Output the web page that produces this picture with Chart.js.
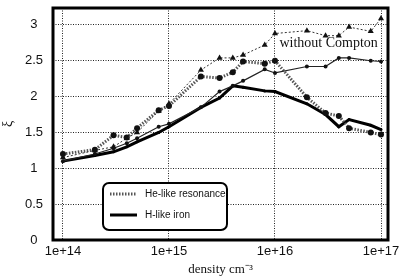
<!DOCTYPE html>
<html><head><meta charset="utf-8">
<script src="https://cdn.jsdelivr.net/npm/chart.js@4"></script>
<style>html,body{margin:0;padding:0;background:#fff}#wrap{width:409px;height:278px}</style>
</head><body><div id="wrap"><canvas id="c" width="409" height="278"></canvas></div>
<script>
const densities = [1e14,2e14,3e14,4e14,5e14,8e14,1e15,2e15,3e15,4e15,5e15,8e15,1e16,2e16,3e16,4e16,5e16,8e16,1e17];
const heNoCompton = [1.15,1.25,1.3,1.42,1.5,1.8,1.9,2.37,2.54,2.54,2.58,2.72,2.88,2.92,2.85,2.85,2.97,2.91,3.09];
const hNoCompton  = [1.1,1.2,1.28,1.35,1.42,1.58,1.62,1.85,2.07,2.15,2.22,2.38,2.33,2.42,2.42,2.54,2.54,2.5,2.49];
const heResonance = [1.2,1.26,1.46,1.43,1.56,1.81,1.87,2.28,2.26,2.34,2.49,2.46,2.5,1.99,1.77,1.73,1.56,1.5,1.47];
const hIron       = [1.1,1.18,1.23,1.3,1.37,1.5,1.58,1.85,1.98,2.15,2.13,2.08,2.07,1.9,1.75,1.58,1.68,1.6,1.54];
const xTicks = [1e14,1e15,1e16,1e17];
const yTicks = [0,0.5,1,1.5,2,2.5,3];
const legendLabels = ['He-like resonance','H-like iron'];
const noteText = 'without Compton';

const pts = arr => arr.map((v,i)=>({x:densities[i],y:v}));

const frame = {
  id:'frame',
  afterDraw(chart){
    const {ctx, chartArea:a, scales} = chart;
    ctx.save();
    ctx.strokeStyle='#000'; ctx.lineWidth=3;
    ctx.strokeRect(a.left,a.top,a.right-a.left,a.bottom-a.top);
    // note
    ctx.fillStyle='#111';
    ctx.font='14px "Liberation Serif", serif';
    ctx.textBaseline='middle'; ctx.textAlign='left';
    ctx.fillText(noteText, scales.x.getPixelForValue(1.1e16), scales.y.getPixelForValue(2.74));
    // legend box
    const lx=103, ly=183, lw=124, lh=47, r=6;
    ctx.fillStyle='#fff';
    ctx.beginPath();
    ctx.moveTo(lx+r,ly); ctx.lineTo(lx+lw-r,ly); ctx.arcTo(lx+lw,ly,lx+lw,ly+r,r);
    ctx.lineTo(lx+lw,ly+lh-r); ctx.arcTo(lx+lw,ly+lh,lx+lw-r,ly+lh,r);
    ctx.lineTo(lx+r,ly+lh); ctx.arcTo(lx,ly+lh,lx,ly+lh-r,r);
    ctx.lineTo(lx,ly+r); ctx.arcTo(lx,ly,lx+r,ly,r); ctx.closePath();
    ctx.fill(); ctx.lineWidth=2; ctx.strokeStyle='#000'; ctx.stroke();
    // samples
    ctx.lineWidth=3;
    ctx.strokeStyle='#555'; ctx.setLineDash([1.5,1.5]);
    ctx.beginPath(); ctx.moveTo(110,194); ctx.lineTo(137,194); ctx.stroke();
    ctx.setLineDash([]); ctx.strokeStyle='#000';
    ctx.beginPath(); ctx.moveTo(110,215); ctx.lineTo(137,215); ctx.stroke();
    ctx.fillStyle='#111';
    ctx.font='10px "Liberation Sans", Arial, sans-serif';
    ctx.fillText(legendLabels[0],145,194);
    ctx.fillText(legendLabels[1],145,215);
    ctx.restore();
  }
};

new Chart(document.getElementById('c'),{
  type:'line',
  data:{datasets:[
    {label:'He-like (no Compton)',data:pts(heNoCompton),borderColor:'#333',borderWidth:1,borderDash:[2,2],pointStyle:'triangle',pointRadius:3.5,pointBorderWidth:0,pointBackgroundColor:'#111',tension:0},
    {label:'H-like (no Compton)',data:pts(hNoCompton),borderColor:'#222',borderWidth:1.2,pointStyle:'circle',pointRadius:2,pointBorderWidth:0,pointBackgroundColor:'#111',tension:0},
    {label:legendLabels[0],data:pts(heResonance),borderColor:'#555',borderWidth:3,borderDash:[1.5,1.5],pointStyle:'circle',pointRadius:3,pointBorderWidth:0,pointBackgroundColor:'#111',tension:0},
    {label:legendLabels[1],data:pts(hIron),borderColor:'#000',borderWidth:3,pointRadius:1.5,pointBorderWidth:0,pointBackgroundColor:'#000',tension:0}
  ]},
  options:{
    responsive:false,animation:false,
    layout:{padding:{top:8,right:21,left:0,bottom:0}},
    plugins:{legend:{display:false},tooltip:{enabled:false}},
    scales:{
      x:{type:'logarithmic',min:Math.pow(10,13.906),max:Math.pow(10,17.066),
        afterBuildTicks(s){s.ticks=xTicks.map(v=>({value:v}));},
        afterFit(s){s.height=38;s.paddingLeft=0;s.paddingRight=0;},
        ticks:{color:'#111',font:{family:'"Liberation Sans", Arial, sans-serif',size:13},padding:4,maxRotation:0,autoSkip:false,
          callback:(v)=>'1e+'+Math.round(Math.log10(v))},
        grid:{color:'#222',lineWidth:1,drawTicks:false},
        border:{display:false,dash:[1,1.5]},
        title:{display:true,text:'density cm⁻³',color:'#111',font:{family:'"Liberation Serif", serif',size:13},padding:{top:0,bottom:1}}
      },
      y:{min:0,max:3.236,
        afterBuildTicks(s){s.ticks=yTicks.map(v=>({value:v}));},
        afterFit(s){s.width=53;s.paddingTop=0;s.paddingBottom=0;},
        ticks:{color:'#111',font:{family:'"Liberation Sans", Arial, sans-serif',size:13},padding:10,crossAlign:'center',
          callback:(v)=>String(v)},
        grid:{color:'#222',lineWidth:1,drawTicks:false},
        border:{display:false,dash:[1,1.5]},
        title:{display:true,text:'ξ',color:'#111',font:{family:'"Liberation Serif", serif',size:14},padding:{top:0,bottom:0}}
      }
    }
  },
  plugins:[frame]
});
</script></body></html>
